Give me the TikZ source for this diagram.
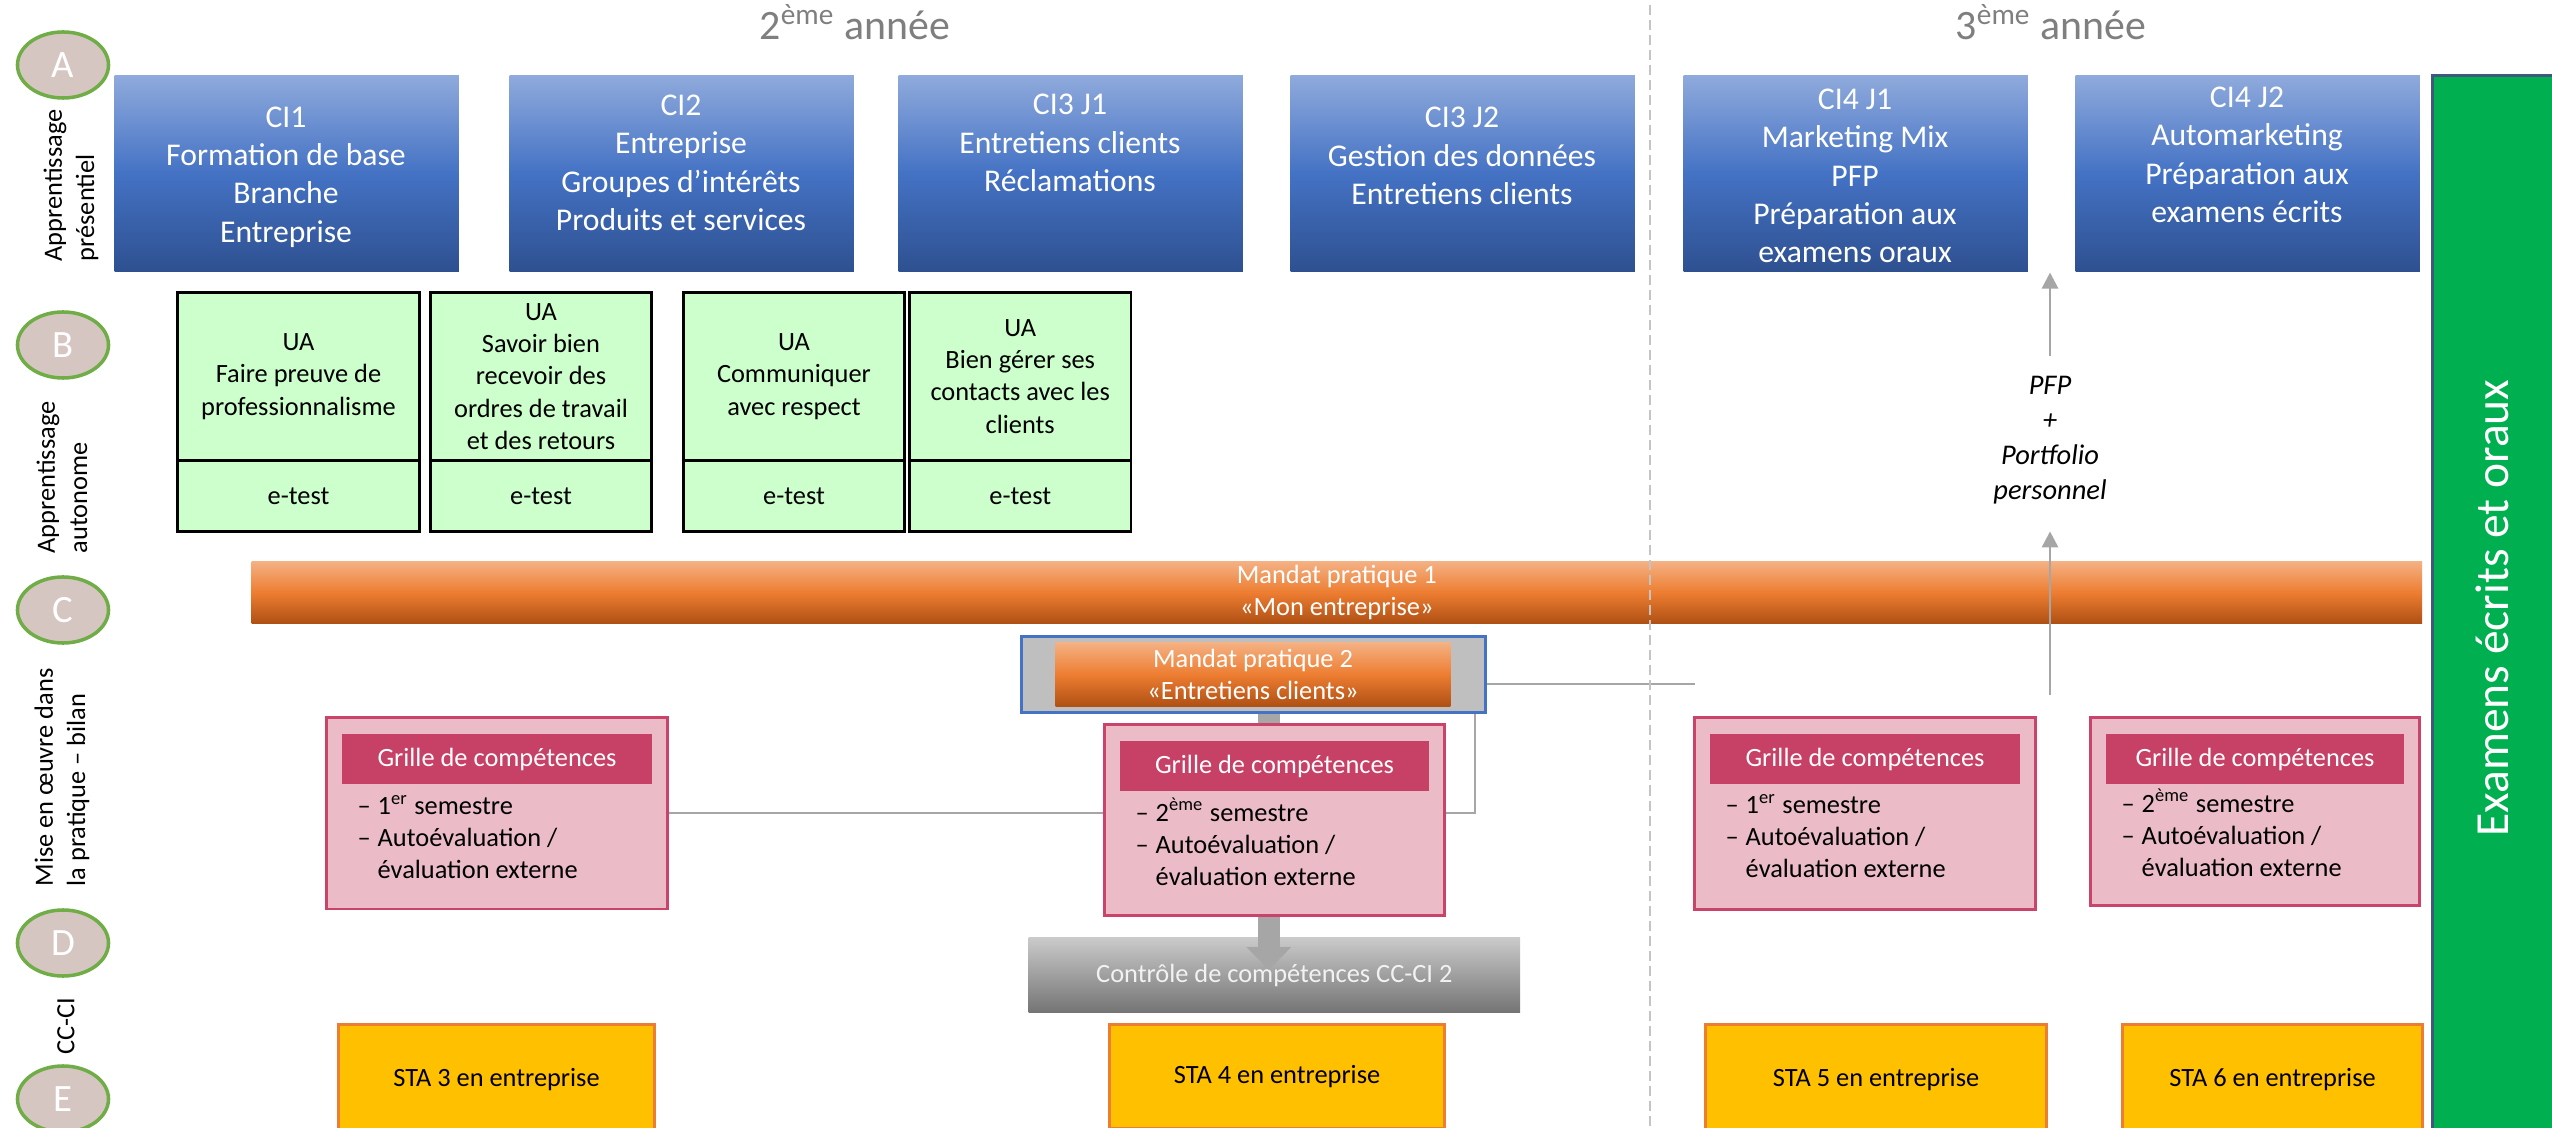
\documentclass[tikz,border=0pt]{standalone}
\usepackage{fontspec}
\setmainfont{Carlito}
\usetikzlibrary{shapes.geometric,arrows.meta}

\definecolor{ciTop}{HTML}{8FAADC}
\definecolor{ciMid}{HTML}{4472C4}
\definecolor{ciBot}{HTML}{2E5090}
\definecolor{uaFill}{HTML}{CCFFCC}
\definecolor{mpTop}{HTML}{F4B183}
\definecolor{mpMid}{HTML}{ED7D31}
\definecolor{mpBot}{HTML}{AF5014}
\definecolor{mpBack}{HTML}{BFBFBF}
\definecolor{mpLine}{HTML}{4472C4}
\definecolor{ccTop}{HTML}{CACACA}
\definecolor{ccBot}{HTML}{747474}
\definecolor{ccText}{HTML}{F2F2F2}
\definecolor{grFill}{HTML}{EBBCC8}
\definecolor{grLine}{HTML}{C9436A}
\definecolor{grHead}{HTML}{C74166}
\definecolor{staFill}{HTML}{FFC000}
\definecolor{staLine}{HTML}{ED7D31}
\definecolor{examFill}{HTML}{00B050}
\definecolor{examLine}{HTML}{41587E}
\definecolor{circFill}{HTML}{D6C6C1}
\definecolor{circLine}{HTML}{70AD47}
\definecolor{linkGray}{HTML}{A6A6A6}
\definecolor{dashGray}{HTML}{C4C4C4}
\definecolor{titleGray}{HTML}{7F7F7F}

\newcommand\grItem[1]{\makebox[0.2cm][l]{–}#1}
\newcommand\grCont[1]{\hspace*{0.2cm}#1}

\tikzset{
  cibox/.style={anchor=north west, minimum width=3.44cm, minimum height=1.96cm, inner sep=0pt,
    top color=ciTop, bottom color=ciBot, middle color=ciMid},
  citext/.style={align=center, text=white, inner sep=0pt, font=\fontsize{9}{10.9}\selectfont},
  uabox/.style={anchor=north west, draw=black, line width=0.8pt, fill=uaFill, align=center,
    inner sep=0pt, font=\fontsize{7.5}{9.2}\selectfont},
  mpbar/.style={anchor=north west, inner sep=0pt, align=center, text=white,
    top color=mpTop, bottom color=mpBot, middle color=mpMid, font=\fontsize{7.5}{9}\selectfont},
  mpback/.style={anchor=north west, minimum width=4.64cm, minimum height=0.764cm,
    fill=mpBack, draw=mpLine, line width=0.8pt},
  ccbox/.style={anchor=north west, minimum width=4.91cm, minimum height=0.75cm, inner sep=0pt,
    top color=ccTop, bottom color=ccBot, text=ccText, font=\fontsize{7.5}{9}\selectfont},
  bigarrow/.style={draw=linkGray, line width=2.2mm, -{Triangle[width=4.5mm,length=2.3mm,line width=0pt]}},
  link/.style={draw=linkGray, line width=0.6pt},
  pfparrow/.style={draw=linkGray, line width=0.8pt, -{Triangle[width=1.6mm,length=1.6mm]}},
  pfptext/.style={align=center, inner sep=0pt, font=\fontsize{8.1}{9.9}\selectfont\itshape},
  grbox/.style={anchor=north west, fill=grFill, draw=grLine, line width=0.8pt},
  grhead/.style={minimum height=0.505cm, fill=grHead, text=white, inner sep=0pt,
    font=\fontsize{7.5}{9}\selectfont},
  grlist/.style={anchor=west, align=left, inner sep=0pt, font=\fontsize{7.5}{9.1}\selectfont},
  stabox/.style={anchor=north west, fill=staFill, draw=staLine, line width=0.8pt, inner sep=0pt,
    font=\fontsize{7.5}{9}\selectfont},
  exambar/.style={anchor=north west, minimum width=1.23cm, minimum height=10.6cm,
    fill=examFill, draw=examLine, line width=0.8pt},
  examtext/.style={rotate=90, text=white, inner sep=0pt, font=\fontsize{13.5}{16}\selectfont},
  stepcirc/.style={ellipse, minimum width=0.91cm, minimum height=0.66cm, inner sep=0pt,
    fill=circFill, draw=circLine, line width=1pt, text=white, font=\fontsize{11}{13}\selectfont},
  sidelbl/.style={rotate=90, anchor=west, align=left, inner sep=0pt, font=\fontsize{7.5}{9.2}\selectfont},
  yeartitle/.style={anchor=base, text=titleGray, font=\fontsize{11.9}{14}\selectfont},
  yearline/.style={draw=dashGray, line width=0.45pt, dash pattern=on 0.1cm off 0.05cm}
}

\begin{document}
\begin{tikzpicture}[x=0.01cm,y=-0.01cm]
\useasboundingbox (0,0) rectangle (2552,1128);
\clip (0,0) rectangle (2552,1128);

\foreach \lt/\yy in {A/65,B/345,C/610,D/943,E/1099}
  \node[stepcirc] (c\lt) at (63,\yy) {\lt};

\node[sidelbl] (lblA) at (71,262) {Apprentissage\\présentiel};
\node[sidelbl] (lblB) at (62,554) {Apprentissage\\autonome};
\node[sidelbl] (lblC) at (62,887) {Mise en œuvre dans\\la pratique – bilan};
\node[sidelbl] (lblD) at (66,1055) {CC-CI};

\node[yeartitle] (y2) at (855,40) {2\textsuperscript{ème} année};
\node[yeartitle] (y3) at (2051,40) {3\textsuperscript{ème} année};

\foreach \nm/\xx/\ty/\txt in {
  ci1/114/177/{CI1\\Formation de base\\Branche\\Entreprise},
  ci2/509/163/{CI2\\Entreprise\\Groupes d’intérêts\\Produits et services},
  ci3a/898/143/{CI3 J1\\Entretiens clients\\Réclamations},
  ci3b/1290/156/{CI3 J2\\Gestion des données\\Entretiens clients},
  ci4a/1683/176/{CI4 J1\\Marketing Mix\\PFP\\Préparation aux\\examens oraux},
  ci4b/2075/155/{CI4 J2\\Automarketing\\Préparation aux\\examens écrits}}{
  \node[cibox] (\nm) at (\xx,75) {};
  \node[citext] (\nm t) at (\xx+172,\ty) {\txt};
}

\foreach \nm/\xx/\ww/\txt in {
  ua1/176/2.42/{UA\\Faire preuve de\\professionnalisme},
  ua2/429/2.21/{UA\\Savoir bien\\recevoir des\\ordres de travail\\et des retours},
  ua3/682/2.21/{UA\\Communiquer\\avec respect},
  ua4/908/2.215/{UA\\Bien gérer ses\\contacts avec les\\clients}}{
  \node[uabox, minimum width=\ww cm, minimum height=1.68cm] (\nm) at (\xx,291) {\txt};
  \node[uabox, minimum width=\ww cm, minimum height=0.71cm] (\nm e) at (\xx,459) {e-test};
}

\node[mpbar, minimum width=21.69cm, minimum height=0.615cm] (mp1) at (251,561)
  {Mandat pratique 1\\«Mon entreprise»};
\node[mpback] (mp2) at (1020,635) {};
\node[mpbar, minimum width=3.944cm, minimum height=0.637cm] (mp2in) at (1055,642)
  {Mandat pratique 2\\«Entretiens clients»};

\node[ccbox] (cc) at (1028,937) {Contrôle de compétences CC-CI 2};
\draw[bigarrow] ([xshift=-0.055cm]cc.north |- mp2.south) -- ([xshift=-0.055cm,yshift=-0.33cm]cc.north);

\foreach \nm/\xx/\yy/\ww/\hh/\sem/\ly in {
  g1/325/716/3.41/1.915/1\textsuperscript{er}/837,
  g2/1103/723/3.40/1.91/2\textsuperscript{ème}/842,
  g3/1693/716/3.41/1.92/1\textsuperscript{er}/836,
  g4/2089/716/3.29/1.88/2\textsuperscript{ème}/833}{
  \node[grbox, minimum width=\ww cm, minimum height=\hh cm] (\nm) at (\xx,\yy) {};
  \node[grhead, minimum width=\ww cm-0.32cm] (\nm h) at ([yshift=-0.43cm]\nm.north) {Grille de compétences};
  \node[grlist] (\nm l) at (\xx+32,\ly)
    {\grItem{\sem{} semestre}\\\grItem{Autoévaluation /}\\\grCont{évaluation externe}};
}

\draw[link] (g1.east) -- (g1.east -| g2.west);
\draw[link] (g1.east -| g2.east) -| ([xshift=-0.12cm]mp2.south east);
\coordinate (mpend) at (1695,684);
\draw[link] (mp2.east |- mpend) -- (mpend);

\foreach \nm/\xx/\ww/\hh/\n in {sta3/337/3.16/1.10/3, sta4/1108/3.35/1.035/4,
  sta5/1704/3.41/1.10/5, sta6/2121/3.00/1.10/6}
  \node[stabox, minimum width=\ww cm, minimum height=\hh cm] (\nm) at (\xx,1023) {STA \n{} en entreprise};

\node[exambar] (exam) at (2431,74) {};
\node[examtext] (examt) at (2492,608) {Examens écrits et oraux};

\node[pfptext] (pfp) at (2050,440) {PFP\\+\\Portfolio\\personnel};
\draw[pfparrow] ([yshift=0.2cm]pfp.north) -- (pfp.north |- ci4a.south);
\coordinate (pfpfoot) at (2050,695);
\draw[pfparrow] (pfpfoot) -- ([yshift=-0.27cm]pfp.south);

\coordinate (ytop) at (1650,5);
\draw[yearline] (ytop) -- (ytop |- 0,1128);
\end{tikzpicture}
\end{document}
